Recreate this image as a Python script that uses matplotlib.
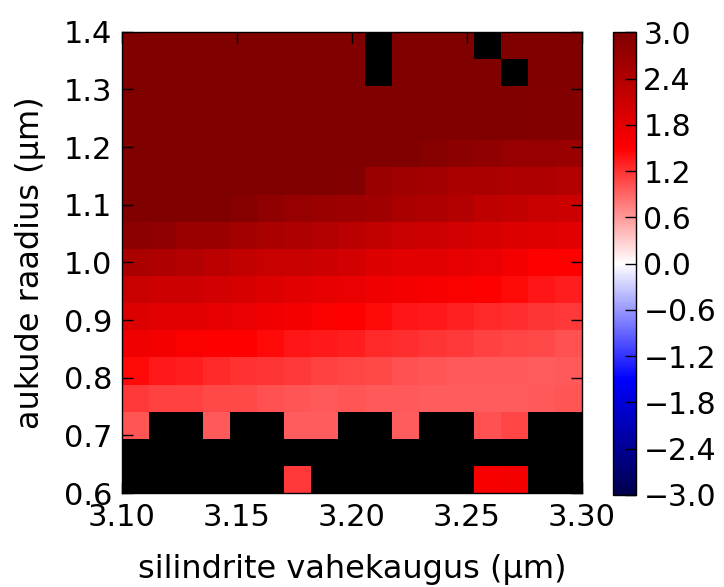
import numpy as np
import matplotlib
matplotlib.use("Agg")
import matplotlib.pyplot as plt

# ------------------------- Andmed -------------------------
# silindrite vahekaugus: rakkude servad (17 veergu), aukude raadius: 17 rida
x_edges = np.linspace(3.10, 3.30, 18)
y_edges = np.linspace(0.60, 1.40, 18)

nan = np.nan
# read alt üles (raadius 0.6 -> 1.4), veerud vasakult paremale
rows = [
    [nan] * 6 + [1.15] + [nan] * 6 + [1.58, 1.62, nan, nan],
    [nan] * 17,
    [1.00, nan, nan, 0.97, nan, nan, 0.94, 0.94, nan, nan, 0.96, nan, nan, 1.03, 1.09, nan, nan],
    [1.15, 1.12, 1.12, 1.06, 1.06, 1.03, 1.00, 0.97, 0.99, 0.98, 0.97, 0.96, 0.96, 0.96, 0.96, 0.97, 1.00],
    [1.44, 1.35, 1.32, 1.26, 1.21, 1.18, 1.15, 1.12, 1.09, 1.06, 1.03, 1.00, 0.98, 0.97, 0.97, 0.96, 0.98],
    [1.68, 1.62, 1.56, 1.50, 1.50, 1.44, 1.38, 1.35, 1.32, 1.26, 1.24, 1.18, 1.15, 1.12, 1.09, 1.06, 1.03],
    [1.91, 1.85, 1.85, 1.79, 1.74, 1.68, 1.62, 1.56, 1.50, 1.44, 1.38, 1.35, 1.29, 1.26, 1.24, 1.18, 1.15],
    [2.15, 2.09, 2.09, 2.03, 1.97, 1.91, 1.85, 1.79, 1.74, 1.68, 1.62, 1.58, 1.56, 1.50, 1.44, 1.38, 1.32],
    [2.50, 2.44, 2.38, 2.32, 2.21, 2.15, 2.15, 2.09, 2.03, 1.91, 1.85, 1.82, 1.79, 1.74, 1.62, 1.50, 1.50],
    [2.85, 2.79, 2.68, 2.68, 2.56, 2.50, 2.44, 2.38, 2.32, 2.21, 2.15, 2.09, 2.03, 1.97, 1.91, 1.89, 1.85],
    [3.00, 3.00, 3.00, 3.00, 2.91, 2.79, 2.74, 2.68, 2.65, 2.62, 2.50, 2.44, 2.38, 2.26, 2.21, 2.15, 2.09],
    [3.00] * 8 + [2.97, 2.68, 2.62, 2.56, 2.50, 2.50, 2.44, 2.44, 2.38],
    [3.00] * 11 + [2.91, 2.85, 2.79, 2.74, 2.74, 2.68],
    [3.00] * 15 + [2.97, 2.97],
    [3.00] * 15 + [2.97, 2.97],
    [3.00] * 9 + [nan] + [3.00] * 4 + [nan, 3.00, 3.00],
    [3.00] * 9 + [nan] + [3.00] * 3 + [nan, 3.00, 3.00, 3.00],
]
values = np.ma.masked_invalid(np.array(rows))

x_ticks = [3.10, 3.15, 3.20, 3.25, 3.30]
y_ticks = [0.6, 0.7, 0.8, 0.9, 1.0, 1.1, 1.2, 1.3, 1.4]
cbar_ticks = np.round(np.arange(-3.0, 3.01, 0.6), 1)


def fmt(v, n):
    s = f"{abs(v):.{n}f}"
    return ("\u2212" + s) if v < 0 else s


# ------------------------- Joonis -------------------------
fig = plt.figure(figsize=(7.24, 5.87), dpi=100)
ax = fig.add_axes([0.1685, 0.160, 0.635, 0.786])
cax = fig.add_axes([0.846, 0.157, 0.033, 0.788])

cmap = plt.get_cmap("seismic").copy()
cmap.set_bad("black")
mesh = ax.pcolormesh(x_edges, y_edges, values, cmap=cmap, vmin=-3, vmax=3)

ax.set_xlim(3.10, 3.30)
ax.set_ylim(0.6, 1.4)
ax.set_xticks(x_ticks)
ax.set_xticklabels([fmt(v, 2) for v in x_ticks])
ax.set_yticks(y_ticks)
ax.set_yticklabels([fmt(v, 1) for v in y_ticks])
ax.tick_params(direction="in", top=True, right=True, length=8, width=1,
               labelsize=22, pad=7)
for sp in ax.spines.values():
    sp.set_linewidth(1.0)
ax.set_xlabel("silindrite vahekaugus (µm)", fontsize=23, labelpad=16)
ax.set_ylabel("aukude raadius (µm)", fontsize=23, labelpad=13)

cb = fig.colorbar(mesh, cax=cax, ticks=cbar_ticks)
cb.ax.set_yticklabels([fmt(v, 1) for v in cbar_ticks])
cb.ax.tick_params(direction="in", length=8, width=1, labelsize=21.5, pad=5)
cb.outline.set_linewidth(1.0)

fig.savefig("out.png", dpi=100)
